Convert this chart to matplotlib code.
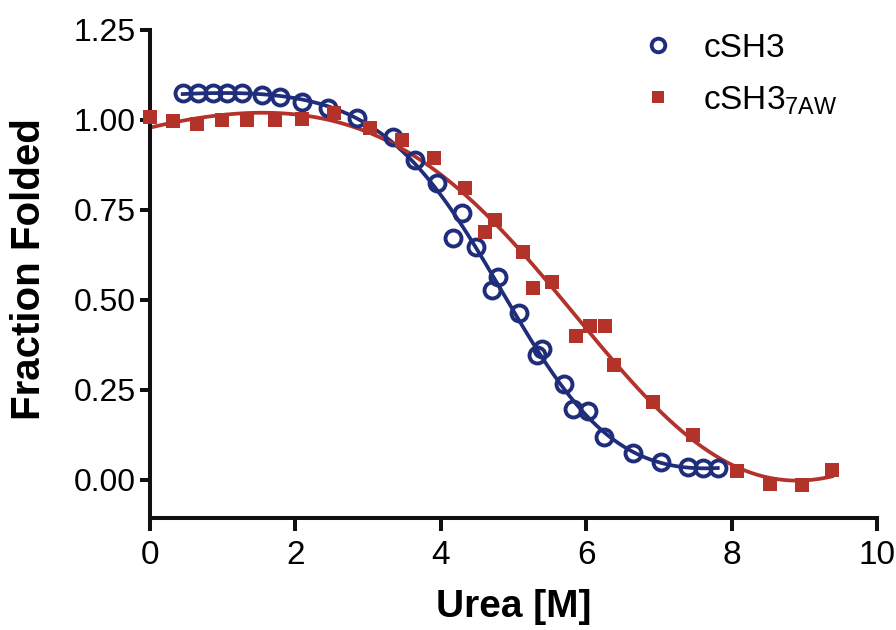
import numpy as np
import matplotlib
matplotlib.use("Agg")
import matplotlib.pyplot as plt

# Urea denaturation data: fraction folded vs urea concentration
urea_wt = [0.45, 0.66, 0.87, 1.06, 1.27, 1.54, 1.79, 2.09, 2.45, 2.85,
           3.34, 3.65, 3.95, 4.17, 4.29, 4.48, 4.70, 4.79, 5.08, 5.32,
           5.39, 5.69, 5.82, 6.02, 6.24, 6.64, 7.03, 7.40, 7.61, 7.81]
frac_wt = [1.075, 1.075, 1.075, 1.075, 1.075, 1.069, 1.064, 1.050, 1.033, 1.006,
           0.953, 0.889, 0.825, 0.672, 0.742, 0.647, 0.528, 0.564, 0.464, 0.347,
           0.364, 0.267, 0.197, 0.192, 0.119, 0.075, 0.050, 0.036, 0.033, 0.033]

urea_aw = [0.00, 0.32, 0.65, 0.99, 1.33, 1.72, 2.09, 2.53, 3.03, 3.47,
           3.90, 4.33, 4.61, 4.75, 5.13, 5.27, 5.53, 5.86, 6.05, 6.26,
           6.38, 6.92, 7.47, 8.07, 8.53, 8.97, 9.38]
frac_aw = [1.008, 0.997, 0.989, 1.000, 1.000, 1.000, 1.003, 1.019, 0.978, 0.944,
           0.895, 0.811, 0.689, 0.722, 0.633, 0.533, 0.550, 0.400, 0.428, 0.428,
           0.319, 0.217, 0.125, 0.025, -0.011, -0.014, 0.028]

labels = ["cSH3", r"cSH3$_{\mathregular{7AW}}$"]
x_ticks = [0, 2, 4, 6, 8, 10]
y_ticks = [0.00, 0.25, 0.50, 0.75, 1.00, 1.25]

BLUE = "#1f2d7a"
RED = "#b3322a"
INK = "#111111"


def two_state_fit(x, y):
    """Two-state unfolding model with linear baselines.
    Grid over midpoint/steepness, linear least squares for the baselines."""
    x = np.asarray(x, float)
    y = np.asarray(y, float)
    best = None
    for cm in np.linspace(3.0, 8.0, 201):
        for m in np.linspace(0.3, 4.0, 149):
            f = 1.0 / (1.0 + np.exp(m * (x - cm)))
            A = np.column_stack([f, x * f, 1 - f, x * (1 - f)])
            coef, *_ = np.linalg.lstsq(A, y, rcond=None)
            r = np.sum((A @ coef - y) ** 2)
            if best is None or r < best[0]:
                best = (r, cm, m, coef)
    _, cm, m, coef = best

    def model(xx):
        f = 1.0 / (1.0 + np.exp(m * (xx - cm)))
        return (coef[0] + coef[1] * xx) * f + (coef[2] + coef[3] * xx) * (1 - f)
    return model


plt.rcParams['font.family'] = ['Liberation Sans', 'DejaVu Sans']
plt.rcParams['mathtext.fontset'] = 'custom'
plt.rcParams['mathtext.rm'] = 'Liberation Sans'

fig = plt.figure(figsize=(8.96, 6.30), dpi=100)
ax = fig.add_axes([150 / 896, 1 - 518 / 630, 727 / 896, 488 / 630])

for xs, ys, color, marker, label in [
        (urea_wt, frac_wt, BLUE, 'o', labels[0]),
        (urea_aw, frac_aw, RED, 's', labels[1])]:
    fit = two_state_fit(xs, ys)
    xx = np.linspace(min(xs), max(xs), 400)
    ax.plot(xx, fit(xx), color=color, lw=2.7, zorder=2)
    if marker == 'o':
        ax.plot(xs, ys, linestyle='none', marker='o', ms=11.5, mfc='none',
                mec=color, mew=2.8, label=label, zorder=3, clip_on=False)
    else:
        ax.plot(xs, ys, linestyle='none', marker='s', ms=10.5, mfc=color,
                mec=color, mew=0, label=label, zorder=3, clip_on=False)

ax.set_xlim(0, 10)
ax.set_ylim(-0.1056, 1.25)
ax.set_xticks(x_ticks)
ax.set_xticklabels([str(t) for t in x_ticks])
ax.set_yticks(y_ticks)
ax.set_yticklabels([f"{t:.2f}" for t in y_ticks])

for side in ['top', 'right']:
    ax.spines[side].set_visible(False)
for side in ['left', 'bottom']:
    ax.spines[side].set_linewidth(2.9)
    ax.spines[side].set_color(INK)

ax.tick_params(axis='y', length=7, width=2.9, labelsize=23, pad=3, color=INK)
ax.tick_params(axis='x', length=9, width=2.9, labelsize=24, pad=7, color=INK)

ax.set_ylabel("Fraction Folded", fontsize=29, fontweight='bold')
ax.yaxis.set_label_coords(-0.14, 0.51)
ax.set_xlabel("Urea [M]", fontsize=28, fontweight='bold')
ax.xaxis.set_label_coords(0.5, -0.145)

leg = ax.legend(loc='upper left', bbox_to_anchor=(0.635, 1.055), frameon=False,
                fontsize=24, handletextpad=0.85, labelspacing=0.6,
                markerscale=0.85, handlelength=1.0)

fig.savefig("out.png", dpi=100)
